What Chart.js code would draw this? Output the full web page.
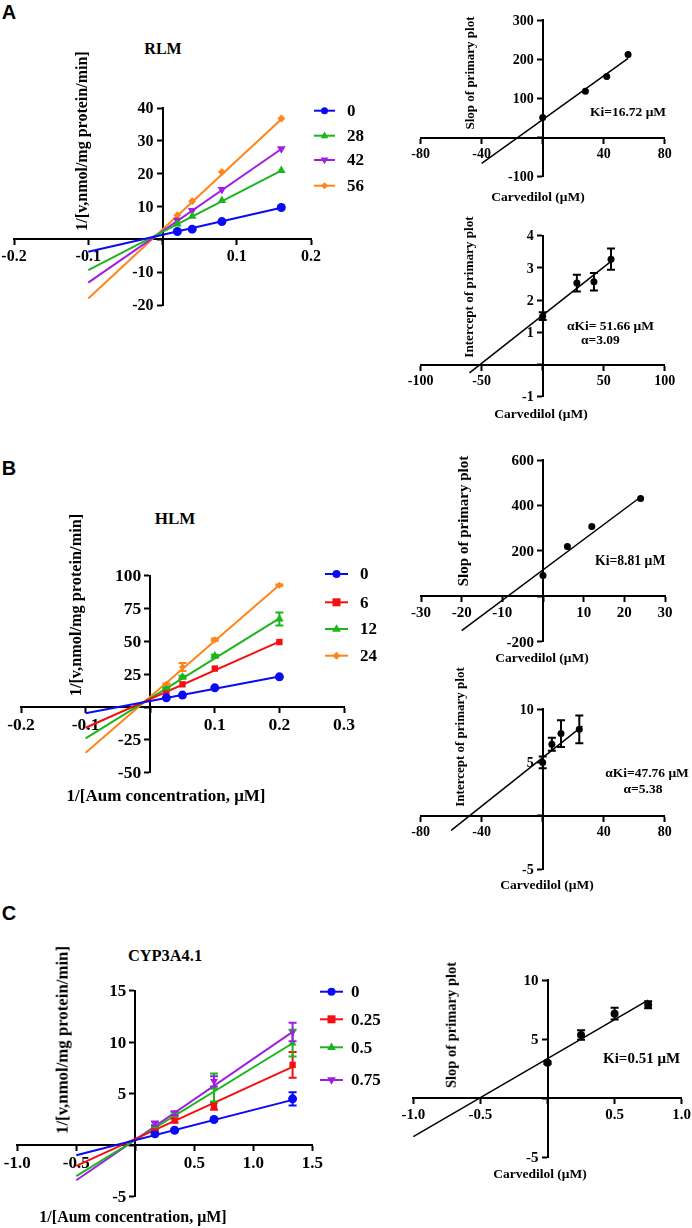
<!DOCTYPE html>
<html><head><meta charset="utf-8">
<script src="https://cdn.jsdelivr.net/npm/chart.js@4.4.1/dist/chart.umd.min.js"></script>
<style>
body{margin:0;background:#fff;width:692px;height:1228px;position:relative;overflow:hidden;font-family:'Liberation Serif','Times New Roman',serif;}
canvas{position:absolute;}
.t{position:absolute;font-weight:bold;white-space:nowrap;color:#000;line-height:1;}
.c{transform:translate(-50%,-50%);}
.r{transform:translate(-50%,-50%) rotate(-90deg);}
.l{transform:translateY(-50%);}
.p{font-family:'Liberation Sans',Arial,sans-serif;font-size:20px;}
</style></head><body>
<canvas id="al"></canvas><canvas id="art"></canvas><canvas id="arb"></canvas>
<canvas id="bl"></canvas><canvas id="brt"></canvas><canvas id="brb"></canvas>
<canvas id="cl"></canvas><canvas id="cr"></canvas>

<div class="t c p" style="left:9px;top:12px">A</div>
<div class="t c p" style="left:9px;top:468px">B</div>
<div class="t c p" style="left:9px;top:913px">C</div>

<div class="t c" style="left:163px;top:49px;font-size:16px">RLM</div>
<div class="t r" style="left:82px;top:141px;font-size:16px">1/[v,nmol/mg protein/min]</div>
<div class="t r" style="left:469px;top:73px;font-size:13px">Slop of primary plot</div>
<div class="t c" style="left:538px;top:197px;font-size:13.5px">Carvedilol (μM)</div>
<div class="t l" style="left:590px;top:112px;font-size:13.5px">Ki=16.72 μM</div>
<div class="t r" style="left:469px;top:287px;font-size:13.2px">Intercept of primary plot</div>
<div class="t c" style="left:541px;top:414px;font-size:13.5px">Carvedilol (μM)</div>
<div class="t l" style="left:567px;top:326px;font-size:13.5px">αKi= 51.66 μM</div>
<div class="t l" style="left:581px;top:340px;font-size:13.5px">α=3.09</div>

<div class="t c" style="left:175px;top:518px;font-size:17px">HLM</div>
<div class="t r" style="left:76px;top:605px;font-size:16.3px">1/[v,nmol/mg protein/min]</div>
<div class="t c" style="left:166px;top:795px;font-size:17px">1/[Aum concentration, μM]</div>
<div class="t r" style="left:463px;top:521px;font-size:15px">Slop of primary plot</div>
<div class="t c" style="left:542px;top:658px;font-size:13.5px">Carvedilol (μM)</div>
<div class="t l" style="left:595px;top:561px;font-size:13.7px">Ki=8.81 μM</div>
<div class="t r" style="left:459px;top:737px;font-size:13px">Intercept of primary plot</div>
<div class="t c" style="left:547px;top:885px;font-size:13.5px">Carvedilol (μM)</div>
<div class="t c" style="left:647px;top:773px;font-size:13.5px">αKi=47.76 μM</div>
<div class="t c" style="left:643px;top:789px;font-size:13.5px">α=5.38</div>

<div class="t c" style="left:165px;top:956px;font-size:16.4px">CYP3A4.1</div>
<div class="t r" style="left:63px;top:1040px;font-size:16.8px">1/[v,nmol/mg protein/min]</div>
<div class="t c" style="left:133px;top:1217px;font-size:16px">1/[Aum concentration, μM]</div>
<div class="t r" style="left:451px;top:1025px;font-size:14.5px">Slop of primary plot</div>
<div class="t c" style="left:540px;top:1174px;font-size:13.5px">Carvedilol (μM)</div>
<div class="t l" style="left:603px;top:1058px;font-size:15px">Ki=0.51 μM</div>

<script>
// ================= DATA =================
// A: RLM primary plot
const rlmX = [0.02, 0.04, 0.08, 0.16];
const rlmLabels = ['0', '28', '42', '56'];
const rlm0 = [2.4, 3.1, 5.4, 9.7];
const rlm28 = [4.7, 7.0, 11.8, 21.0];
const rlm42 = [5.8, 8.8, 15.2, 27.6];
const rlm56 = [7.3, 11.6, 20.5, 36.8];
const rlmFitX = [-0.1, 0.16];
const rlmFit0 = [-3.8, 9.6];
const rlmFit28 = [-9.4, 20.9];
const rlmFit42 = [-13.2, 27.5];
const rlmFit56 = [-18.0, 36.6];
// A: secondary plots
const rlmInhib = [0, 28, 42, 56];
const rlmSlope = [51, 118, 156, 212];
const rlmSlopeFitX = [-40, 56];
const rlmSlopeFit = [-66, 202];
const rlmIcpt = [1.5, 2.53, 2.57, 3.27];
const rlmIcptErr = [0.12, 0.26, 0.27, 0.33];
const rlmIcptFitX = [-60, 56];
const rlmIcptFit = [-0.26, 3.2];

// B: HLM primary plot
const hlmX = [0.025, 0.05, 0.1, 0.2];
const hlmLabels = ['0', '6', '12', '24'];
const hlm0 = [7.0, 9.1, 14.6, 23.0];
const hlm6 = [10.8, 17.3, 29.3, 49.5];
const hlm12 = [14.2, 22.8, 38.8, 67.0];
const hlm12Err = [0.6, 1.0, 1.0, 5.0];
const hlm24 = [17.4, 30.5, 51.3, 92.8];
const hlm24Err = [0.5, 3.0, 0.8, 0.5];
const hlmFitX = [-0.1, 0.2];
const hlmFit0 = [-4.8, 23.2];
const hlmFit6 = [-15.8, 49.8];
const hlmFit12 = [-23.9, 67.5];
const hlmFit24 = [-34.8, 93.0];
// B: secondary plots
const hlmInhib = [0, 6, 12, 24];
const hlmSlope = [91, 219, 307, 430];
const hlmSlopeFitX = [-20, 24];
const hlmSlopeFit = [-151, 437];
const hlmIcpt = [5.0, 6.7, 7.7, 8.1];
const hlmIcptErr = [0.55, 0.6, 1.25, 1.3];
const hlmIcptFitX = [-60, 26];
const hlmIcptFit = [-1.35, 8.4];

// C: CYP3A4.1 primary plot
const cypX = [0.167, 0.333, 0.667, 1.333];
const cypLabels = ['0', '0.25', '0.5', '0.75'];
const cyp0 = [1.1, 1.45, 2.5, 4.5];
const cyp0Err = [0.1, 0.1, 0.1, 0.65];
const cyp025 = [1.7, 2.4, 3.8, 7.8];
const cyp025Err = [0.2, 0.2, 0.35, 1.25];
const cyp05 = [1.85, 3.0, 5.6, 9.9];
const cyp05Err = [0.1, 0.2, 1.35, 1.3];
const cyp075 = [2.1, 3.1, 6.2, 11.0];
const cyp075Err = [0.2, 0.2, 0.5, 0.9];
const cypFitX = [-0.5, 1.333];
const cypFit0 = [-0.97, 4.4];
const cypFit025 = [-2.0, 7.6];
const cypFit05 = [-3.0, 9.9];
const cypFit075 = [-3.4, 11.0];
// C: secondary plot
const cypInhib = [0, 0.25, 0.5, 0.75];
const cypSlope = [3.0, 5.35, 7.15, 7.9];
const cypSlopeErr = [0.1, 0.4, 0.5, 0.3];
const cypSlopeFitX = [-1.0, 0.75];
const cypSlopeFit = [-3.25, 8.3];

// ================= STYLES / HELPERS =================
const FONT = "'Liberation Serif','Times New Roman',serif";
const BLUE = '#0a0af5', GREEN = '#1db41d', PURPLE = '#9d1fe6', ORANGE = '#ff8519', RED = '#f51010', BLACK = '#000';

function pts(xs, ys) { return xs.map((x, i) => ({x: x, y: ys[i]})); }

function pointSet(xs, ys, color, style, radius, errs, rot) {
  return {data: pts(xs, ys), showLine: false, pointStyle: style, pointRadius: radius,
    pointRotation: rot || 0, backgroundColor: color, borderColor: color, pointBorderWidth: 0,
    errors: errs || null, clip: false, markerStyle: rot ? 'triangleDown' : style};
}
function fitSet(xs, ys, color, width) {
  return {data: pts(xs, ys), showLine: true, pointRadius: 0, borderColor: color,
    borderWidth: width, backgroundColor: color, clip: false, isFit: true};
}

const errorBarPlugin = {
  id: 'errbars',
  afterDatasetsDraw(chart) {
    const ctx = chart.ctx, xs = chart.scales.x, ys = chart.scales.y;
    chart.data.datasets.forEach(ds => {
      if (!ds.errors) return;
      ctx.save();
      ctx.strokeStyle = ds.borderColor; ctx.lineWidth = 2;
      ds.data.forEach((p, i) => {
        const e = ds.errors[i];
        if (!e) return;
        const px = xs.getPixelForValue(p.x);
        const y1 = ys.getPixelForValue(p.y + e), y2 = ys.getPixelForValue(p.y - e);
        ctx.beginPath();
        ctx.moveTo(px, y1); ctx.lineTo(px, y2);
        ctx.moveTo(px - 4, y1); ctx.lineTo(px + 4, y1);
        ctx.moveTo(px - 4, y2); ctx.lineTo(px + 4, y2);
        ctx.stroke();
      });
      ctx.restore();
    });
  }
};

// y-axis tick labels drawn to the left of the centred axis
const yLabelPlugin = {
  id: 'yLabels',
  afterDraw(chart, args, opts) {
    const ctx = chart.ctx, xs = chart.scales.x, ys = chart.scales.y;
    const ax = xs.getPixelForValue(0);
    ctx.save();
    ctx.fillStyle = '#000';
    ctx.font = 'bold ' + opts.size + 'px ' + FONT;
    ctx.textAlign = 'right'; ctx.textBaseline = 'middle';
    ys.ticks.forEach(t => {
      const s = opts.fmt(t.value);
      if (!s) return;
      ctx.fillText(s, ax - 9, ys.getPixelForValue(t.value) + 1);
    });
    ctx.restore();
  }
};

function drawMarker(ctx, style, x, y, r, color) {
  ctx.fillStyle = color; ctx.beginPath();
  if (style === 'circle') ctx.arc(x, y, r, 0, Math.PI * 2);
  else if (style === 'rect') ctx.rect(x - r, y - r, 2 * r, 2 * r);
  else if (style === 'triangle') { ctx.moveTo(x, y - r * 1.2); ctx.lineTo(x + r * 1.1, y + r * 0.7); ctx.lineTo(x - r * 1.1, y + r * 0.7); ctx.closePath(); }
  else if (style === 'triangleDown') { ctx.moveTo(x, y + r * 1.2); ctx.lineTo(x + r * 1.1, y - r * 0.7); ctx.lineTo(x - r * 1.1, y - r * 0.7); ctx.closePath(); }
  else if (style === 'rectRot') { ctx.moveTo(x, y - r); ctx.lineTo(x + r, y); ctx.lineTo(x, y + r); ctx.lineTo(x - r, y); ctx.closePath(); }
  ctx.fill();
}

const legendPlugin = {
  id: 'customLegend',
  afterDraw(chart, args, opts) {
    if (!opts || !opts.labels) return;
    const ctx = chart.ctx;
    const ox = chart.canvas.offsetLeft, oy = chart.canvas.offsetTop;
    ctx.save();
    opts.labels.forEach((lab, i) => {
      const ds = chart.data.datasets[i];
      const y = opts.ys[i] - oy;
      ctx.strokeStyle = ds.borderColor; ctx.lineWidth = 2;
      ctx.beginPath(); ctx.moveTo(opts.x1 - ox, y); ctx.lineTo(opts.x2 - ox, y); ctx.stroke();
      drawMarker(ctx, ds.markerStyle, (opts.x1 + opts.x2) / 2 - ox, y, opts.r, ds.backgroundColor);
      ctx.fillStyle = '#000';
      ctx.font = 'bold ' + opts.size + 'px ' + FONT;
      ctx.textBaseline = 'middle'; ctx.textAlign = 'left';
      ctx.fillText(lab, opts.labelX - ox, y + 1);
    });
    ctx.restore();
  }
};

function fmt(dec) {
  return function (v) {
    if (Math.abs(v) < 1e-9) return '';
    return dec ? v.toFixed(dec) : String(+v.toFixed(3));
  };
}

function makeChart(id, rect, area, xs, ys, datasets, tickSize, legend) {
  const cv = document.getElementById(id);
  cv.width = rect.w; cv.height = rect.h;
  cv.style.left = rect.left + 'px'; cv.style.top = rect.top + 'px';
  cv.style.width = rect.w + 'px'; cv.style.height = rect.h + 'px';
  const pad = {left: area.l - rect.left, right: rect.left + rect.w - area.r,
    top: area.t - rect.top, bottom: rect.top + rect.h - area.b};
  const font = {family: FONT, weight: 'bold', size: tickSize};
  const grid = {drawOnChartArea: false, drawTicks: true, tickLength: 5, tickWidth: 2, color: '#000'};
  const border = {display: true, width: 2, color: '#000'};
  return new Chart(cv, {
    type: 'scatter',
    data: {datasets: datasets},
    options: {
      responsive: false, animation: false, devicePixelRatio: 1,
      layout: {padding: pad},
      plugins: {legend: {display: false}, tooltip: {enabled: false},
        customLegend: legend || {}, yLabels: {size: tickSize, fmt: fmt(ys.dec)}},
      scales: {
        x: {type: 'linear', min: xs.min, max: xs.max, position: {y: 0},
          ticks: {stepSize: xs.step, callback: fmt(xs.dec), font: font, color: '#000', padding: 3, maxRotation: 0, autoSkip: false},
          grid: grid, border: border},
        y: {type: 'linear', min: ys.min, max: ys.max, position: {x: 0},
          ticks: {display: false, stepSize: ys.step, callback: fmt(ys.dec), font: font, color: '#000', padding: 3, autoSkip: false},
          grid: grid, border: border}
      }
    },
    plugins: [errorBarPlugin, legendPlugin, yLabelPlugin]
  });
}

// ================= CHARTS =================
// A left
makeChart('al', {left: -20, top: 80, w: 420, h: 250}, {l: 14, r: 311, t: 108, b: 305},
  {min: -0.2, max: 0.2, step: 0.1}, {min: -20, max: 40, step: 10}, [
    pointSet(rlmX, rlm0, BLUE, 'circle', 4.5),
    pointSet(rlmX, rlm28, GREEN, 'triangle', 5),
    pointSet(rlmX, rlm42, PURPLE, 'triangle', 5, null, 180),
    pointSet(rlmX, rlm56, ORANGE, 'rectRot', 4),
    fitSet(rlmFitX, rlmFit0, BLUE, 2),
    fitSet(rlmFitX, rlmFit28, GREEN, 2),
    fitSet(rlmFitX, rlmFit42, PURPLE, 2),
    fitSet(rlmFitX, rlmFit56, ORANGE, 2)
  ], 16, {labels: rlmLabels, x1: 314, x2: 335, labelX: 347, ys: [110.7, 135.7, 160, 185.7], r: 3.5, size: 17});

makeChart('art', {left: 390, top: 0, w: 302, h: 200}, {l: 420.7, r: 664.7, t: 20, b: 176.7},
  {min: -80, max: 80, step: 40}, {min: -100, max: 300, step: 100}, [
    pointSet(rlmInhib, rlmSlope, BLACK, 'circle', 3.5),
    fitSet(rlmSlopeFitX, rlmSlopeFit, BLACK, 1.5)
  ], 14);

makeChart('arb', {left: 390, top: 210, w: 302, h: 210}, {l: 420.7, r: 664.7, t: 235.7, b: 396.7},
  {min: -100, max: 100, step: 50}, {min: -1, max: 4, step: 1}, [
    pointSet(rlmInhib, rlmIcpt, BLACK, 'circle', 3.5, rlmIcptErr),
    fitSet(rlmIcptFitX, rlmIcptFit, BLACK, 1.5)
  ], 14);

// B left
makeChart('bl', {left: -10, top: 550, w: 410, h: 250}, {l: 21, r: 344, t: 575.7, b: 772.7},
  {min: -0.2, max: 0.3, step: 0.1}, {min: -50, max: 100, step: 25}, [
    pointSet(hlmX, hlm0, BLUE, 'circle', 4.5),
    pointSet(hlmX, hlm6, RED, 'rect', 4.5),
    pointSet(hlmX, hlm12, GREEN, 'triangle', 5, hlm12Err),
    pointSet(hlmX, hlm24, ORANGE, 'rectRot', 3.5, hlm24Err),
    fitSet(hlmFitX, hlmFit0, BLUE, 2),
    fitSet(hlmFitX, hlmFit6, RED, 2),
    fitSet(hlmFitX, hlmFit12, GREEN, 2),
    fitSet(hlmFitX, hlmFit24, ORANGE, 2)
  ], 17.5, {labels: hlmLabels, x1: 325, x2: 348, labelX: 360, ys: [574, 602.3, 629, 655.7], r: 4, size: 17});

makeChart('brt', {left: 390, top: 435, w: 302, h: 230}, {l: 421, r: 665, t: 460, b: 641.7},
  {min: -30, max: 30, step: 10}, {min: -200, max: 600, step: 200}, [
    pointSet(hlmInhib, hlmSlope, BLACK, 'circle', 3.5),
    fitSet(hlmSlopeFitX, hlmSlopeFit, BLACK, 1.5)
  ], 15);

makeChart('brb', {left: 390, top: 685, w: 302, h: 210}, {l: 420.7, r: 664.7, t: 709, b: 869.3},
  {min: -80, max: 80, step: 40}, {min: -5, max: 10, step: 5}, [
    pointSet(hlmInhib, hlmIcpt, BLACK, 'circle', 3.5, hlmIcptErr),
    fitSet(hlmIcptFitX, hlmIcptFit, BLACK, 1.5)
  ], 14);

// C left
makeChart('cl', {left: -15, top: 965, w: 415, h: 255}, {l: 17.3, r: 312.3, t: 990.7, b: 1196.7},
  {min: -1.0, max: 1.5, step: 0.5, dec: 1}, {min: -5, max: 15, step: 5}, [
    pointSet(cypX, cyp0, BLUE, 'circle', 4.5, cyp0Err),
    pointSet(cypX, cyp025, RED, 'rect', 4.5, cyp025Err),
    pointSet(cypX, cyp05, GREEN, 'triangle', 4.5, cyp05Err),
    pointSet(cypX, cyp075, PURPLE, 'triangle', 4.5, cyp075Err, 180),
    fitSet(cypFitX, cypFit0, BLUE, 2),
    fitSet(cypFitX, cypFit025, RED, 2),
    fitSet(cypFitX, cypFit05, GREEN, 2),
    fitSet(cypFitX, cypFit075, PURPLE, 2)
  ], 17, {labels: cypLabels, x1: 320, x2: 343, labelX: 351, ys: [991.7, 1019.3, 1047.3, 1080], r: 4, size: 17});

makeChart('cr', {left: 385, top: 955, w: 320, h: 225}, {l: 413.3, r: 681.7, t: 980, b: 1157.3},
  {min: -1.0, max: 1.0, step: 0.5, dec: 1}, {min: -5, max: 10, step: 5}, [
    pointSet(cypInhib, cypSlope, BLACK, 'circle', 4, cypSlopeErr),
    fitSet(cypSlopeFitX, cypSlopeFit, BLACK, 1.5)
  ], 15);
</script>
</body></html>
